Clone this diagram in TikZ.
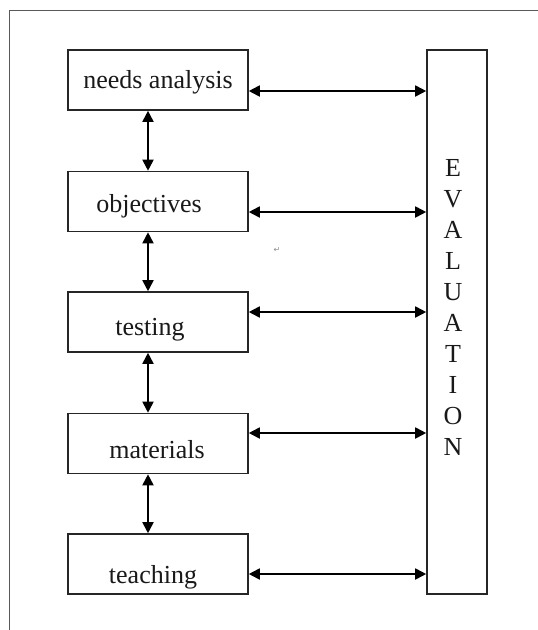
\documentclass[tikz,border=0pt]{standalone}
\usepackage{fontspec}
\setmainfont{Liberation Serif}
\newfontfamily\symfont{DejaVu Sans}
\usetikzlibrary{arrows.meta}
\begin{document}
\begin{tikzpicture}[x=1pt,y=-1pt,
  box/.style={draw=black!85,line width=1.6pt,minimum width=180pt,minimum height=60pt,inner sep=0pt},
  lbl/.style={font=\fontsize{26}{31}\selectfont,anchor=base,inner sep=0pt,text=black!90},
  arr/.style={line width=1.8pt,{Triangle[length=11pt,width=11pt]}-{Triangle[length=11pt,width=11pt]}},
  frame/.style={draw=black!65,line width=1pt}]
\useasboundingbox (0,0) rectangle (538,630);
\fill[white] (0,0) rectangle (538,630);
% frame lines
\coordinate (f1) at (538,10);
\coordinate (f2) at (9.5,10);
\coordinate (f3) at (9.5,630);
\draw[frame] (f1) -- (f2) -- (f3);
% boxes
\node[box] (needs) at (158,80) {};
\node[box] (obj) at (158,201.5) {};
\node[box] (test) at (158,322) {};
\node[box] (mat) at (158,443.5) {};
\node[box] (teach) at (158,564) {};
\node[box,minimum width=60pt,minimum height=544pt] (eval) at (457,322) {};
% labels
\node[lbl] (tneeds) at (158,88) {needs analysis};
\node[lbl] (tobj) at (149,212) {objectives};
\node[lbl] (ttest) at (150,335) {testing};
\node[lbl] (tmat) at (157,458) {materials};
\node[lbl] (tteach) at (153,583) {teaching};
\foreach \l [count=\i] in {E,V,A,L,U,A,T,I,O,N}
  \node[lbl] (e\i) at (453,{176.5+31*(\i-1)}) {\l};
\node[text=black!45,font=\symfont\fontsize{8}{8}\selectfont,inner sep=0pt] (ret) at (277,250) {↵};
% vertical arrows
\draw[arr] ([xshift=-10pt]needs.south) -- ([xshift=-10pt]obj.north);
\draw[arr] ([xshift=-10pt]obj.south) -- ([xshift=-10pt]test.north);
\draw[arr] ([xshift=-10pt]test.south) -- ([xshift=-10pt]mat.north);
\draw[arr] ([xshift=-10pt]mat.south) -- ([xshift=-10pt]teach.north);
% horizontal arrows
\coordinate (h1) at ([yshift=-11pt]needs.east);
\coordinate (h2) at ([yshift=-10.5pt]obj.east);
\coordinate (h3) at ([yshift=10pt]test.east);
\coordinate (h4) at ([yshift=10.5pt]mat.east);
\coordinate (h5) at ([yshift=-10pt]teach.east);
\foreach \h in {h1,h2,h3,h4,h5}
  \draw[arr] (\h) -- (\h -| eval.west);
\end{tikzpicture}
\end{document}
